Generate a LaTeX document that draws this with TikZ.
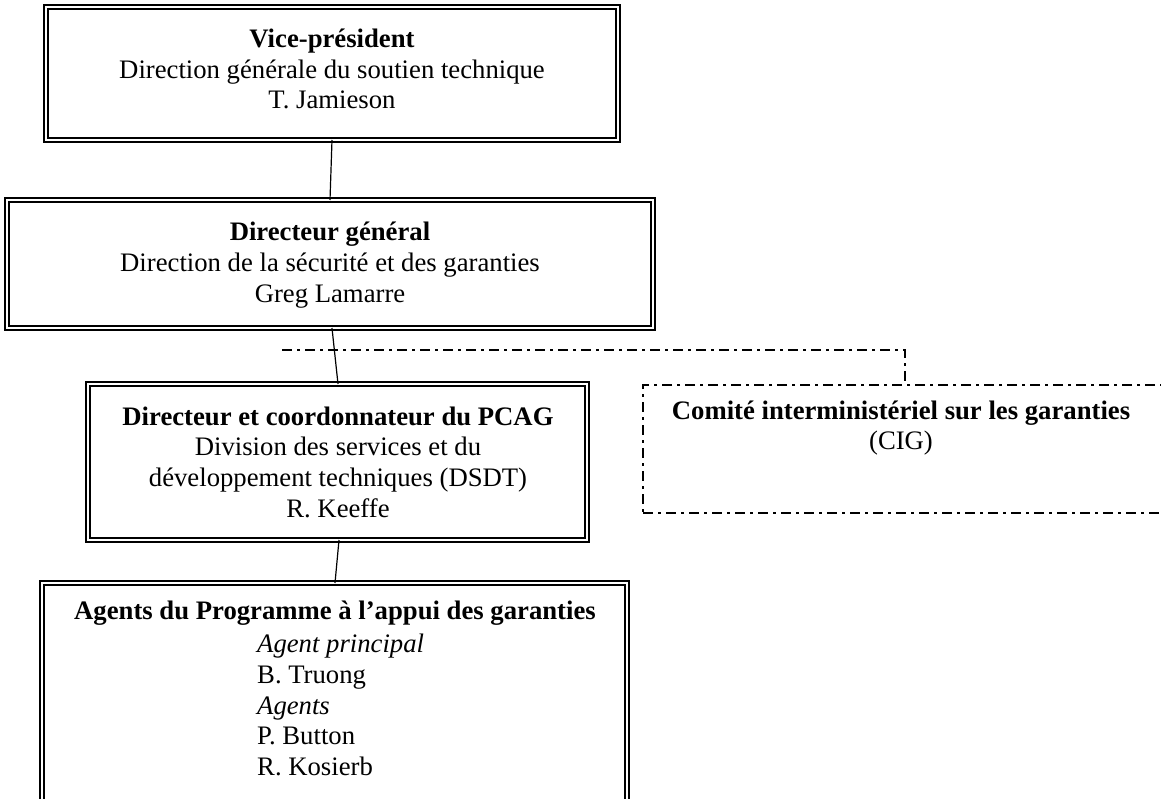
\documentclass[tikz,border=0pt]{standalone}
\usepackage{fontspec}
\setmainfont{Liberation Serif}
\begin{document}
\begin{tikzpicture}[x=1pt,y=-1pt,
  font=\fontsize{26.7}{30.7}\selectfont,
  dbox/.style={draw, double, double distance=2.8pt, line width=1.6pt, inner sep=0pt, outer sep=0pt},
  dashdot/.style={line width=2pt, dash pattern=on 10pt off 5pt on 3pt off 5pt},
  conn/.style={line width=1.2pt},
  txt/.style={align=center, inner sep=0pt}]
\useasboundingbox (0,0) rectangle (1161,799);
\clip (0,0) rectangle (1161,799);
% boxes
\node[dbox, minimum width=572pt, minimum height=133pt] (b1) at (332,73.5) {};
\node[dbox, minimum width=646pt, minimum height=128pt] (b2) at (330,264) {};
\node[dbox, minimum width=499pt, minimum height=156pt] (b3) at (337.5,462) {};
\node[dbox, minimum width=585pt, minimum height=240pt] (b4) at (334.5,703) {};
\node[dashdot, draw, minimum width=560pt, minimum height=128pt, inner sep=0pt] (cig) at (923,449) {};
% texts
\node[txt] (t1) at (332,69) {\textbf{Vice-président}\\Direction générale du soutien technique\\T. Jamieson};
\node[txt] (t2) at (330,265) {\textbf{Directeur général}\\Direction de la sécurité et des garanties\\Greg Lamarre};
\node[txt] (t3) at (338,462) {\textbf{Directeur et coordonnateur du PCAG}\\Division des services et du\\développement techniques (DSDT)\\R. Keeffe};
\node[txt] (t4) at (335,613) {\textbf{Agents du Programme à l’appui des garanties}};
\node[txt, align=left, anchor=west] (t4b) at (257,705) {\textit{Agent principal}\\B. Truong\\\textit{Agents}\\P. Button\\R. Kosierb};
\node[txt] (t5) at (901,428) {\textbf{Comité interministériel sur les garanties}\\(CIG)};
% connectors
\draw[conn] (b1.south) -- (b2.north);
\draw[conn] ([xshift=2pt]b2.south) -- ([xshift=0.5pt]b3.north);
\draw[conn] ([xshift=1.5pt]b3.south) -- ([xshift=0.5pt]b4.north);
\coordinate (j) at (282,350);
\coordinate (cigtop) at ([xshift=263pt]cig.north west);
\draw[dashdot] (j) -| (cigtop);
\end{tikzpicture}
\end{document}
